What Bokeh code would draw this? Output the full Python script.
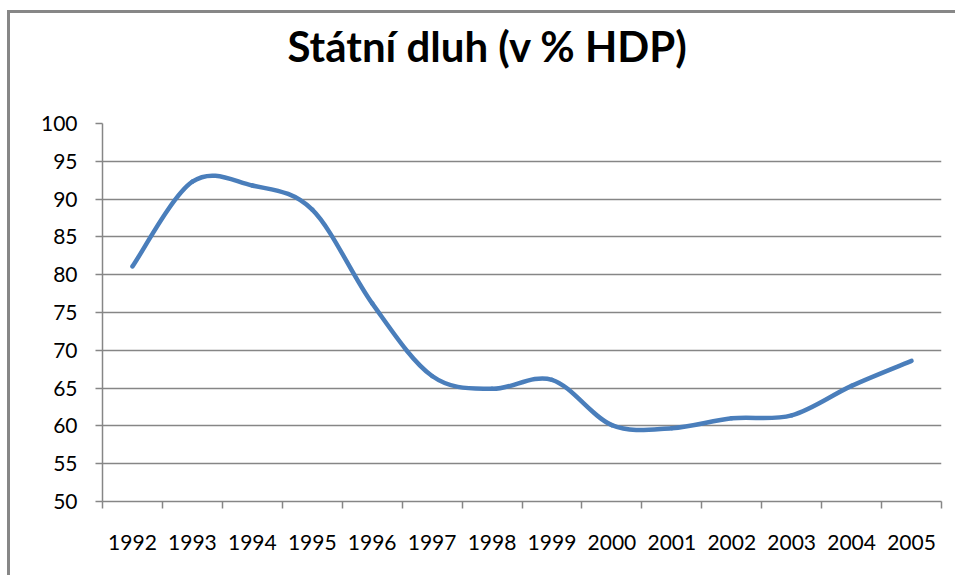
from bokeh.plotting import figure
from bokeh.models import FixedTicker, Range1d, ColumnDataSource, Title
from bokeh.embed import file_html
from bokeh.resources import INLINE

# ---- data ----
years = ["1992", "1993", "1994", "1995", "1996", "1997", "1998",
         "1999", "2000", "2001", "2002", "2003", "2004", "2005"]
debt = [81.1, 92.3, 91.8, 88.6, 76.2, 66.6, 64.9,
        66.1, 60.1, 59.7, 61.0, 61.4, 65.3, 68.6]
y_ticks = [50, 55, 60, 65, 70, 75, 80, 85, 90, 95, 100]
title_text = "Státní dluh (v % HDP)"

GRAY = "#868686"
BLUE = "#4a7ebb"

# category centres on a numeric axis (category i occupies [i, i+1])
xs = [i + 0.5 for i in range(len(years))]

# smoothed line (Excel-like) as cubic Bezier segments through the data points
n = len(xs)
seg = dict(x0=[], y0=[], x1=[], y1=[], cx0=[], cy0=[], cx1=[], cy1=[])
for i in range(n - 1):
    p0x, p0y = (xs[i - 1], debt[i - 1]) if i > 0 else (xs[i], debt[i])
    p1x, p1y = xs[i], debt[i]
    p2x, p2y = xs[i + 1], debt[i + 1]
    p3x, p3y = (xs[i + 2], debt[i + 2]) if i + 2 < n else (xs[i + 1], debt[i + 1])
    seg["x0"].append(p1x); seg["y0"].append(p1y)
    seg["x1"].append(p2x); seg["y1"].append(p2y)
    seg["cx0"].append(p1x + (p2x - p0x) / 6.0); seg["cy0"].append(p1y + (p2y - p0y) / 6.0)
    seg["cx1"].append(p2x - (p3x - p1x) / 6.0); seg["cy1"].append(p2y - (p3y - p1y) / 6.0)
src = ColumnDataSource(seg)

p = figure(width=948, height=565, output_backend="svg", toolbar_location=None,
           x_range=Range1d(0, len(years)), y_range=Range1d(50, 100),
           min_border_left=92, min_border_right=17, min_border_top=110,
           min_border_bottom=77, title=title_text)

# chart-area border (left and top edges visible in the reference)
p.styles = {"margin-left": "7px", "margin-top": "10px",
            "border-left": "3px solid #878787", "border-top": "3px solid #878787"}

p.bezier(x0="x0", y0="y0", x1="x1", y1="y1", cx0="cx0", cy0="cy0",
         cx1="cx1", cy1="cy1", source=src, line_color=BLUE, line_width=4.5,
         line_cap="round")

# spacer between the plot frame and the title
p.add_layout(Title(text=" ", text_font_size="1px", standoff=50), "above")

# title
p.title.text_font = "Lato"
p.title.text_font_style = "bold"
p.title.text_font_size = "42px"
p.title.text_color = "black"
p.title.align = "left"
p.title.offset = 185
p.title.standoff = 0

# axes
p.xaxis.ticker = FixedTicker(ticks=xs, minor_ticks=list(range(len(years) + 1)))
p.xaxis.major_label_overrides = {x: y for x, y in zip(xs, years)}
p.xaxis.major_tick_out = 0
p.xaxis.major_tick_in = 0
p.xaxis.minor_tick_out = 7
p.xaxis.minor_tick_in = 0
p.xaxis.minor_tick_line_color = GRAY
p.xaxis.major_label_standoff = 26

p.yaxis.ticker = FixedTicker(ticks=y_ticks, minor_ticks=[])
p.yaxis.major_tick_out = 7
p.yaxis.major_tick_in = 0
p.yaxis.major_label_standoff = 18

for ax in (p.xaxis, p.yaxis):
    ax.axis_line_color = GRAY
    ax.axis_line_width = 1.5
    ax.major_tick_line_color = GRAY
    ax.major_tick_line_width = 1.5
    ax.minor_tick_line_width = 1.5
    ax.major_label_text_font = "Lato"
    ax.major_label_text_font_size = "21px"
    ax.major_label_text_color = "black"

p.xgrid.visible = False
p.ygrid.ticker = FixedTicker(ticks=y_ticks, minor_ticks=[])
p.ygrid.grid_line_color = GRAY
p.ygrid.grid_line_width = 1.5
p.outline_line_color = None

open("out.html", "w").write(file_html(p, INLINE))
